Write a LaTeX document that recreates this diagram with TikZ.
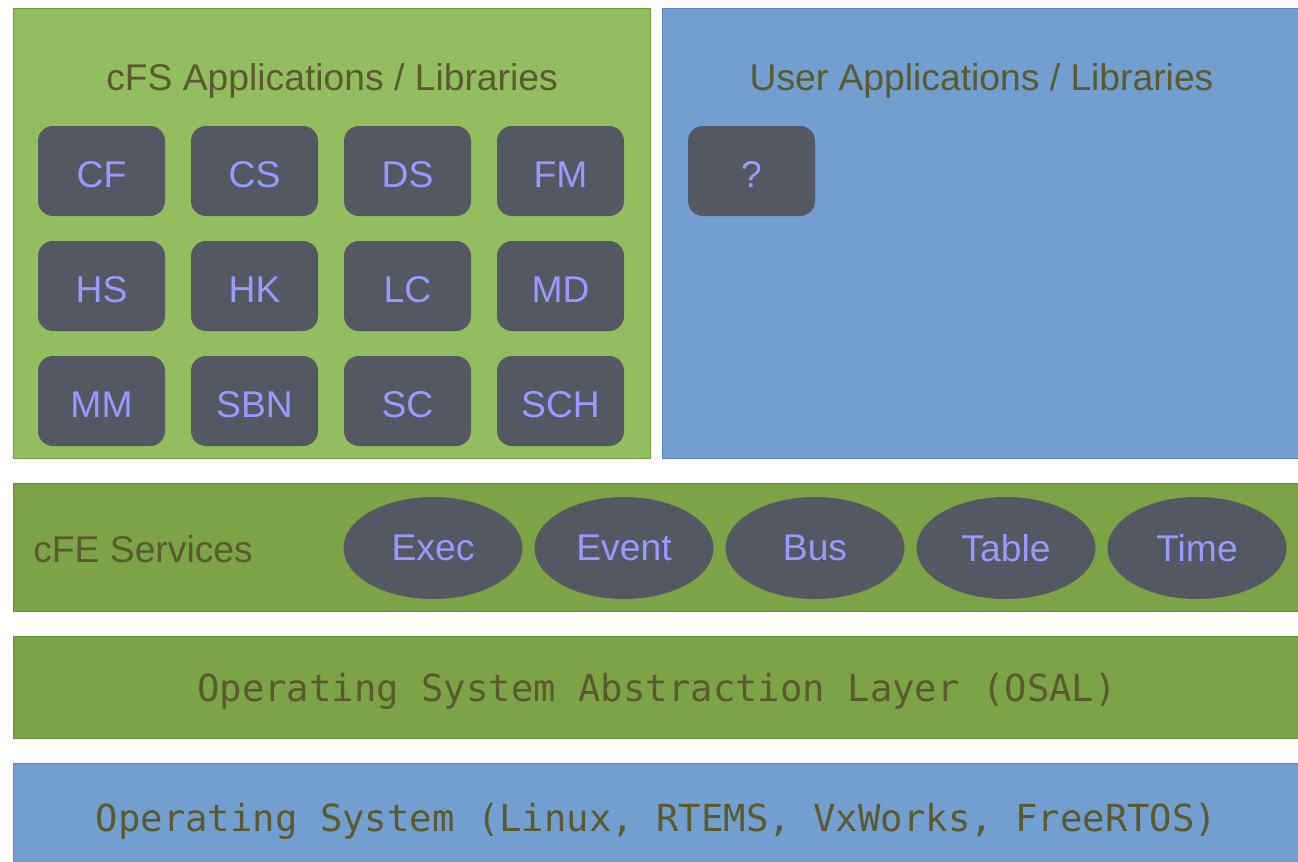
\documentclass[tikz,border=0pt]{standalone}
\usepackage{fontspec}
\setmainfont{Liberation Sans}
\setmonofont{DejaVu Sans Mono}
\usepackage{tikz}
\usetikzlibrary{shapes.geometric, positioning}

\definecolor{cfsgreen}{HTML}{93BE5F}
\definecolor{cfsborder}{HTML}{6F9A3E}
\definecolor{cfegreen}{HTML}{7CA446}
\definecolor{cfeborder}{HTML}{66903A}
\definecolor{userblue}{HTML}{729FCF}
\definecolor{userborder}{HTML}{5A87BC}
\definecolor{appgray}{HTML}{535862}
\definecolor{labelblue}{HTML}{9999FF}
\definecolor{titletext}{HTML}{5A5A2E}

\newcommand{\layerfont}{\fontsize{21.2}{25}\selectfont}

\tikzstyle{layer} = [rectangle, anchor=north west, inner sep=0pt, line width=0.6pt]
\tikzstyle{app} = [rectangle, rounded corners=0.3cm, minimum width=2.54cm, minimum height=1.8cm, text centered, text height=19pt, text depth=0pt, fill=appgray, text=labelblue, font=\layerfont]
\tikzstyle{service} = [ellipse, minimum width=3.58cm, minimum height=2.04cm, text centered, fill=appgray, text=labelblue, font=\layerfont]
\tikzstyle{title} = [text=titletext, font=\layerfont, inner sep=0pt]

\begin{document}
\begin{tikzpicture}[node distance=3.06cm]
			\useasboundingbox (0,0) rectangle (25.96,-17.22);
			\node (cfs) [layer, fill=cfsgreen, draw=cfsborder, minimum width=12.74cm, minimum height=9cm] at (0.26,-0.16) {};
			\node (user) [layer, fill=userblue, draw=userborder, minimum width=12.76cm, minimum height=9cm] at (13.24,-0.16) {};
			\node (cfe) [layer, fill=cfegreen, draw=cfeborder, minimum width=25.74cm, minimum height=2.56cm] at (0.26,-9.66) {};
			\node (osal) [layer, fill=cfegreen, draw=cfeborder, minimum width=25.74cm, minimum height=2.04cm] at (0.26,-12.72) {};
			\node (os) [layer, fill=userblue, draw=userborder, minimum width=25.74cm, minimum height=2.3cm] at (0.26,-15.26) {};
			
			\node (cfslabel) [title] at ([yshift=-1.46cm]cfs.north) {cFS Applications / Libraries};
			\node (userlabel) [title] at ([yshift=-1.46cm]user.north) {User Applications / Libraries};
			
			\node (cf) [app] at (2.03,-3.42) {CF};
			\node (cs) [app, right of=cf] {CS};
			\node (ds) [app, right of=cs] {DS};
			\node (fm) [app, right of=ds] {FM};
			\node (hs) [app, node distance=2.3cm, below of=cf] {HS};
			\node (hk) [app, right of=hs] {HK};
			\node (lc) [app, right of=hk] {LC};
			\node (md) [app, right of=lc] {MD};
			\node (mm) [app, node distance=2.3cm, below of=hs] {MM};
			\node (sbn) [app, right of=mm] {SBN};
			\node (sc) [app, right of=sbn] {SC};
			\node (sch) [app, right of=sc] {SCH};
			\node (unknown) [app] at (15.03,-3.42) {?};
			
			\node (cfelabel) [title, anchor=west] at (0.66,-10.98) {cFE Services};
			\node (exec) [service] at (8.66,-10.96) {Exec};
			\node (event) [service, node distance=3.82cm, right of=exec] {Event};
			\node (bus) [service, node distance=3.82cm, right of=event] {Bus};
			\node (table) [service, node distance=3.82cm, right of=bus] {Table};
			\node (time) [service, node distance=3.82cm, right of=table] {Time};
			
			\node (osallabel) [title, font=\layerfont\ttfamily] at ([yshift=-0.08cm]osal.center) {Operating System Abstraction Layer (OSAL)};
			\node (oslabel) [title, font=\layerfont\ttfamily] at (13.13,-16.42) {Operating System (Linux, RTEMS, VxWorks, FreeRTOS)};
			\end{tikzpicture}
\end{document}
